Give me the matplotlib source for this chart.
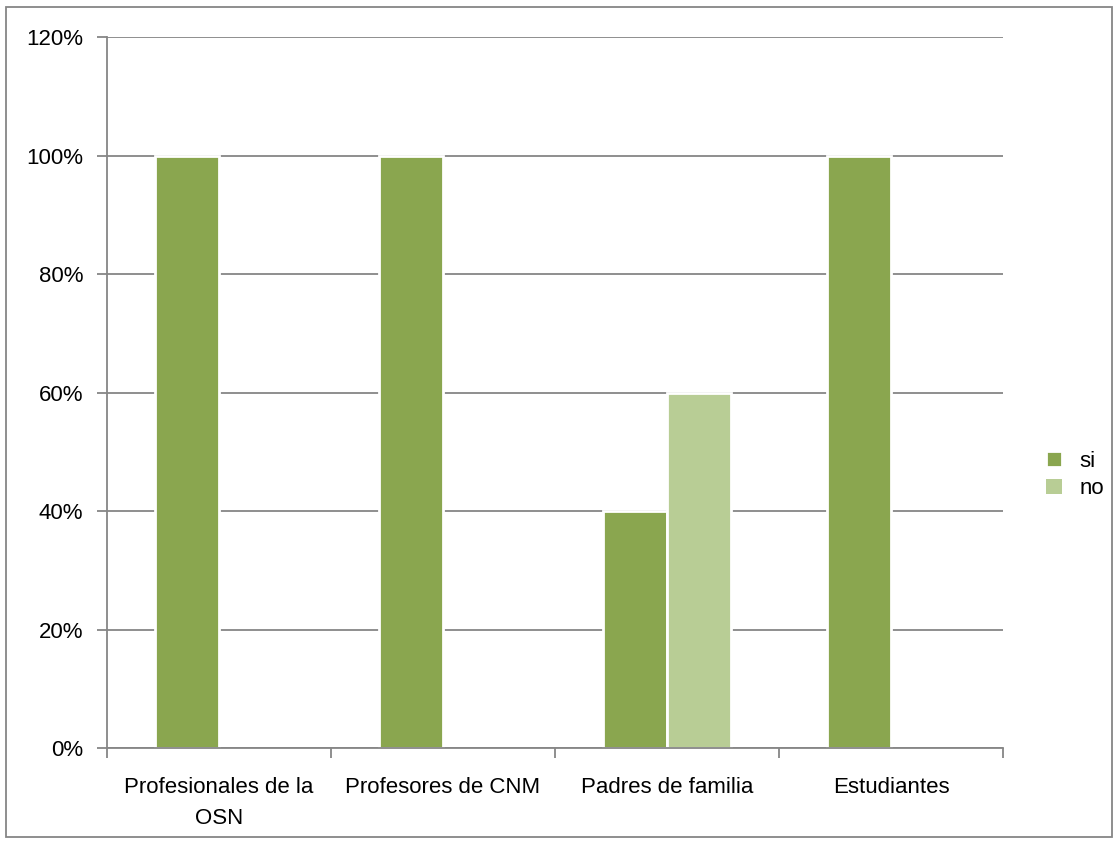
import matplotlib
matplotlib.use("Agg")
import matplotlib.pyplot as plt
from matplotlib.patches import Rectangle
import numpy as np

categories = ["Profesionales de la\nOSN", "Profesores de CNM", "Padres de familia", "Estudiantes"]
si_values = [100, 100, 40, 100]
no_values = [0, 0, 60, 0]
series_names = ["si", "no"]
yticks = [0, 20, 40, 60, 80, 100, 120]

plt.rcParams['font.family'] = ['Liberation Sans', 'DejaVu Sans']
FS = 16

fig = plt.figure(figsize=(11.18, 8.43), dpi=100)
ax = fig.add_axes([107/1118, 95/843, 896/1118, 711/843])

x = np.arange(len(categories))
w = 0.286
for vals, off, col, name in [(si_values, -w/2, '#8AA64F', series_names[0]),
                             (no_values, w/2, '#B8CD95', series_names[1])]:
    lws = [2 if v > 0 else 0 for v in vals]
    ax.bar(x + off, vals, w, color=col, edgecolor='white', linewidth=lws, label=name, zorder=3)

ax.set_xlim(-0.5, len(categories) - 0.5)
ax.set_ylim(0, 120)
ax.set_yticks(yticks)
ax.set_yticklabels([f"{v}%" for v in yticks], fontsize=FS)
ax.yaxis.grid(True, color='#868686', linewidth=1.3, zorder=0)
ax.set_axisbelow(True)

ax.set_xticks(x)
ax.set_xticklabels(categories, fontsize=FS, linespacing=1.6)
ax.tick_params(axis='x', which='major', length=0, pad=21)
ax.set_xticks(np.arange(-0.5, len(categories)), minor=True)
ax.tick_params(axis='x', which='minor', length=7, color='#868686', width=1.3)
ax.tick_params(axis='y', length=7, color='#868686', width=1.3, pad=10)

for s in ['top', 'right']:
    ax.spines[s].set_visible(False)
for s in ['left', 'bottom']:
    ax.spines[s].set_color('#868686')
    ax.spines[s].set_linewidth(1.3)
    ax.spines[s].set_zorder(4)

fig.legend(loc='center left', bbox_to_anchor=(1046/1118, 1 - 475/843), frameon=False,
           fontsize=FS, handlelength=0.7, handleheight=0.7, labelspacing=0.3,
           handletextpad=0.8, borderpad=0, borderaxespad=0)

fig.patches.append(Rectangle((6/1118, 6/843), 1106/1118, 830/843, transform=fig.transFigure,
                             fill=False, edgecolor='#868686', linewidth=1.3))

fig.savefig("out.png", dpi=100)
